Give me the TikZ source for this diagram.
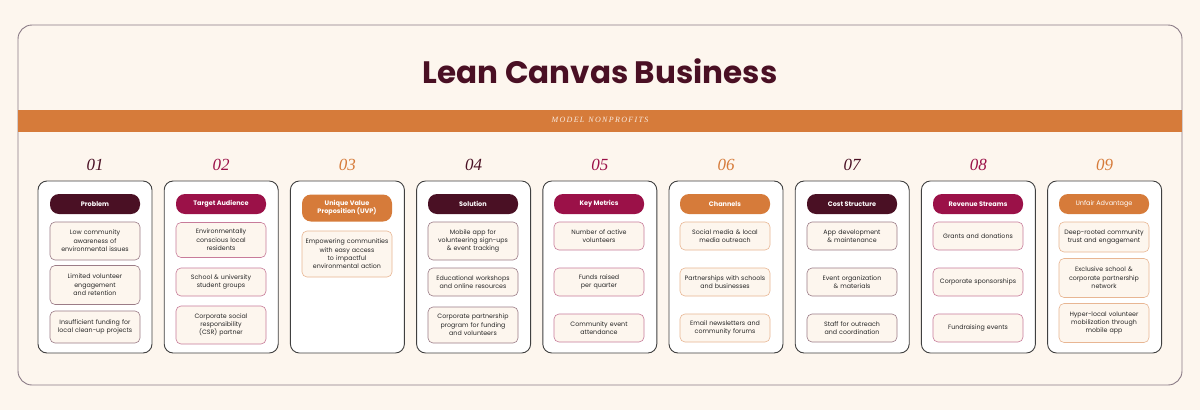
\documentclass[tikz,border=0pt]{standalone}
\usepackage{fontspec}
\setmainfont{Poppins}
\newfontfamily\numfont{Liberation Serif}
\definecolor{cream}{HTML}{FDF6EE}
\definecolor{maroon}{HTML}{4A1024}
\definecolor{berry}{HTML}{9B1148}
\definecolor{amber}{HTML}{D67B3A}
\definecolor{frame}{HTML}{8A7A86}
\tikzset{
  card/.style={draw=black!75, line width=0.9pt, fill=white, rounded corners=9pt},
  pill/.style={fill=#1, text=white, rounded corners=9pt, minimum width=90pt, minimum height=20pt,
    align=center, font=\fontsize{6.5}{7.8}\selectfont\bfseries, inner sep=1pt},
  item/.style={draw=#1!55, line width=0.6pt, fill=cream, rounded corners=5pt, minimum width=90pt, text width=88pt,
    align=center, font=\fontsize{6.3}{8.4}\selectfont, inner sep=1pt, text=black!85},
  num/.style={font=\numfont\itshape\fontsize{17}{17}\selectfont, text=#1}
}
\begin{document}
\begin{tikzpicture}[x=1pt,y=-1pt]
    \useasboundingbox (0,0) rectangle (1200,410);
    \fill[cream] (0,0) rectangle (1200,410);
    % outer frame, title and band
    \draw[frame, line width=0.9pt, fill=cream, rounded corners=14pt] (18,25) rectangle (1182,385);
    \node[text=maroon, font=\fontsize{31}{32}\selectfont\bfseries] (title) at (600,71) {Lean Canvas Business};
    \fill[amber] (18,110) rectangle (1182,132);
    \node[text=white!85!amber, font=\numfont\itshape\fontsize{8}{8}\selectfont] (band) at (600,120)
      {M\,O\,D\,E\,L\ \ N\,O\,N\,P\,R\,O\,F\,I\,T\,S};
    % cards and numbers
    \foreach \i/\c in {1/maroon,2/berry,3/amber,4/maroon,5/berry,6/amber,7/maroon,8/berry,9/amber} {
        \pgfmathsetmacro{\xl}{38+126.2*(\i-1)}
        \draw[card] (\xl,181) rectangle (\xl+114,353);
        \node[num=\c] (n\i) at (\xl+57,165) {0\i};
    }
    % column 1
    \node[pill=maroon] (p1) at (95,204) {Problem};
    \node[item=maroon, minimum height=38pt] (p1a) at (95,241) {Low community\\awareness of\\environmental issues};
    \node[item=maroon, minimum height=39pt] (p1b) at (95,285) {Limited volunteer\\engagement\\and retention};
    \node[item=maroon, minimum height=32pt] (p1c) at (95,327) {Insufficient funding for\\local clean-up projects};
    % column 2
    \node[pill=berry] (p2) at (221,204) {Target Audience};
    \node[item=berry, minimum height=35pt] (p2a) at (221,240) {Environmentally\\conscious local\\residents};
    \node[item=berry, minimum height=28pt] (p2b) at (221,282) {School \& university\\student groups};
    \node[item=berry, minimum height=38pt] (p2c) at (221,325) {Corporate social\\responsibility\\(CSR) partner};
    % column 3
    \node[pill=amber, minimum height=27pt] (p3) at (347,208) {Unique Value\\Proposition (UVP)};
    \node[item=amber, minimum height=46pt] (p3a) at (347,254) {Empowering communities\\with easy access\\to impactful\\environmental action};
    % column 4
    \node[pill=maroon] (p4) at (473,204) {Solution};
    \node[item=maroon, minimum height=38pt] (p4a) at (473,241) {Mobile app for\\volunteering sign-ups\\\& event tracking};
    \node[item=maroon, minimum height=28pt] (p4b) at (473,282) {Educational workshops\\and online resources};
    \node[item=maroon, minimum height=36pt] (p4c) at (473,325) {Corporate partnership\\program for funding\\and volunteers};
    % column 5
    \node[pill=berry] (p5) at (599,204) {Key Metrics};
    \node[item=berry, minimum height=28pt] (p5a) at (599,236) {Number of active\\volunteers};
    \node[item=berry, minimum height=28pt] (p5b) at (599,282) {Funds raised\\per quarter};
    \node[item=berry, minimum height=28pt] (p5c) at (599,328) {Community event\\attendance};
    % column 6
    \node[pill=amber] (p6) at (725,204) {Channels};
    \node[item=amber, minimum height=28pt] (p6a) at (725,236) {Social media \& local\\media outreach};
    \node[item=amber, minimum height=28pt] (p6b) at (725,282) {Partnerships with schools\\and businesses};
    \node[item=amber, minimum height=28pt] (p6c) at (725,328) {Email newsletters and\\community forums};
    % column 7
    \node[pill=maroon] (p7) at (852,204) {Cost Structure};
    \node[item=maroon, minimum height=28pt] (p7a) at (852,236) {App development\\\& maintenance};
    \node[item=maroon, minimum height=28pt] (p7b) at (852,282) {Event organization\\\& materials};
    \node[item=maroon, minimum height=28pt] (p7c) at (852,328) {Staff for outreach\\and coordination};
    % column 8
    \node[pill=berry] (p8) at (978,204) {Revenue Streams};
    \node[item=berry, minimum height=28pt] (p8a) at (978,236) {Grants and donations};
    \node[item=berry, minimum height=28pt] (p8b) at (978,282) {Corporate sponsorships};
    \node[item=berry, minimum height=28pt] (p8c) at (978,328) {Fundraising events};
    % column 9
    \node[pill=amber, font=\fontsize{6.5}{7.8}\selectfont] (p9) at (1104,204) {Unfair Advantage};
    \node[item=amber, minimum height=30pt] (p9a) at (1104,237) {Deep-rooted community\\trust and engagement};
    \node[item=amber, minimum height=39pt] (p9b) at (1104,278) {Exclusive school \&\\corporate partnership\\network};
    \node[item=amber, minimum height=39pt] (p9c) at (1104,323) {Hyper-local volunteer\\mobilization through\\mobile app};
\end{tikzpicture}
\end{document}
